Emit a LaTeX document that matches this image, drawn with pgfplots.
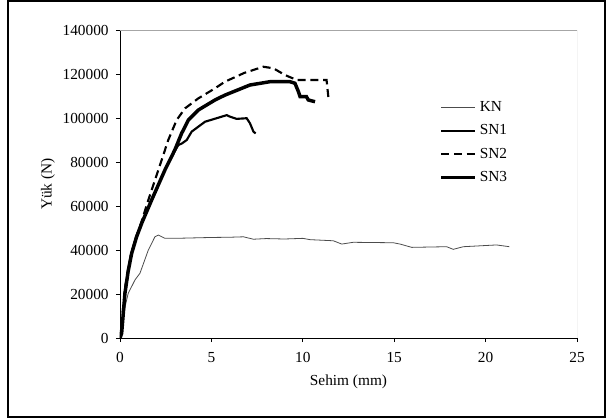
\documentclass[border=0pt]{standalone}
\usepackage{pgfplots}
\pgfplotsset{compat=1.18}
\usepackage{fontspec}
\setmainfont{Liberation Serif}
\begin{document}
\begin{tikzpicture}[x=0.75pt,y=0.75pt]
\useasboundingbox (-120,-81) rectangle (486,338);
\draw[black,line width=0.9pt] (-112,-79) rectangle (485,337);
\begin{axis}[
  at={(0,0)}, anchor=south west,
  scale only axis, width=342.75pt, height=231pt,
  xmin=0, xmax=25, ymin=0, ymax=140000,
  xtick={0,5,...,25}, ytick={0,20000,...,140000},
  axis lines*=left, axis line style={-, black, line width=0.6pt},
  tick align=outside, major tick length=3pt,
  tick style={black, line width=0.6pt},
  scaled y ticks=false,
  /pgf/number format/assume math mode=true,
  yticklabel style={/pgf/number format/fixed, /pgf/number format/1000 sep={}, font=\fontsize{11.5}{13}\selectfont, xshift=-2pt},
  xticklabel style={font=\fontsize{11.5}{13}\selectfont, yshift=-4pt},
  xlabel={Sehim (mm)}, ylabel={Yük (N)},
  label style={font=\fontsize{11.5}{13}\selectfont},
  xlabel style={yshift=-2.5pt},
  ylabel style={yshift=-1pt},
  legend style={at={(0.69,0.787)}, anchor=north west, draw=none, fill=none,
    font=\fontsize{11.5}{13}\selectfont, row sep=4.5pt},
  legend cell align=left,
  legend image code/.code={\draw[#1] (0cm,0cm) -- (0.9cm,0cm);},
]
\draw[gray!70, line width=0.6pt] (rel axis cs:0,1) -- (rel axis cs:1,1) -- (rel axis cs:1,0);
\addplot[black!70, line width=0.6pt] coordinates {
(0,0) (0.15,8000) (0.3,15000) (0.45,20300) (0.82,26400) (1.09,29400) (1.55,40000) (1.91,46000) (2.1,46800) (2.46,45300) (3,45300) (4,45500) (5,45700) (6,45800) (6.75,46000) (7.3,44900) (8,45200) (9,45000) (10,45300) (10.4,44700) (11.67,44200) (12.13,42700) (12.76,43500) (14.95,43300) (15.32,42700) (15.96,41200) (17.87,41500) (18.23,40300) (18.78,41500) (20.6,42300) (21.3,41500)
};
\addlegendentry{KN}
\addplot[black, line width=1.6pt] coordinates {
(0,0) (0.09,4000) (0.27,21000) (0.45,31500) (0.64,39000) (0.9,46500) (1.19,52500) (1.73,63000) (2.46,76500) (3.0,85000) (3.19,87700) (3.4,88500) (3.65,90000) (3.92,93800) (4.65,98300) (5.56,100600) (5.84,101300) (6.02,100600) (6.38,99600) (6.93,99900) (7.11,97600) (7.3,93800) (7.42,93000)
};
\addlegendentry{SN1}
\addplot[black, line width=1.6pt, dash pattern=on 6pt off 3.5pt] coordinates {
(0,0) (0.1,8000) (0.3,24000) (0.6,38000) (1.09,50600) (1.55,62700) (2.1,76400) (2.64,90000) (3.1,99100) (3.56,104400) (4.28,108900) (5.2,113500) (5.74,116500) (6.8,120500) (7.84,123300) (8.39,122600) (9.03,119500) (9.67,117300) (11.3,117300) (11.4,109400)
};
\addlegendentry{SN2}
\addplot[black, line width=2.6pt] coordinates {
(0,0) (0.09,2100) (0.27,20300) (0.45,30500) (0.64,38500) (0.9,45800) (1.19,52200) (1.73,62700) (2.46,76400) (3.0,85500) (3.37,93000) (3.74,99100) (4.28,103600) (5.2,108200) (5.74,110400) (7.11,115000) (8.2,116500) (9.3,116500) (9.57,115800) (9.76,112000) (9.85,109700) (10.2,109700) (10.3,108200) (10.67,107400)
};
\addlegendentry{SN3}
\end{axis}
\end{tikzpicture}
\end{document}
